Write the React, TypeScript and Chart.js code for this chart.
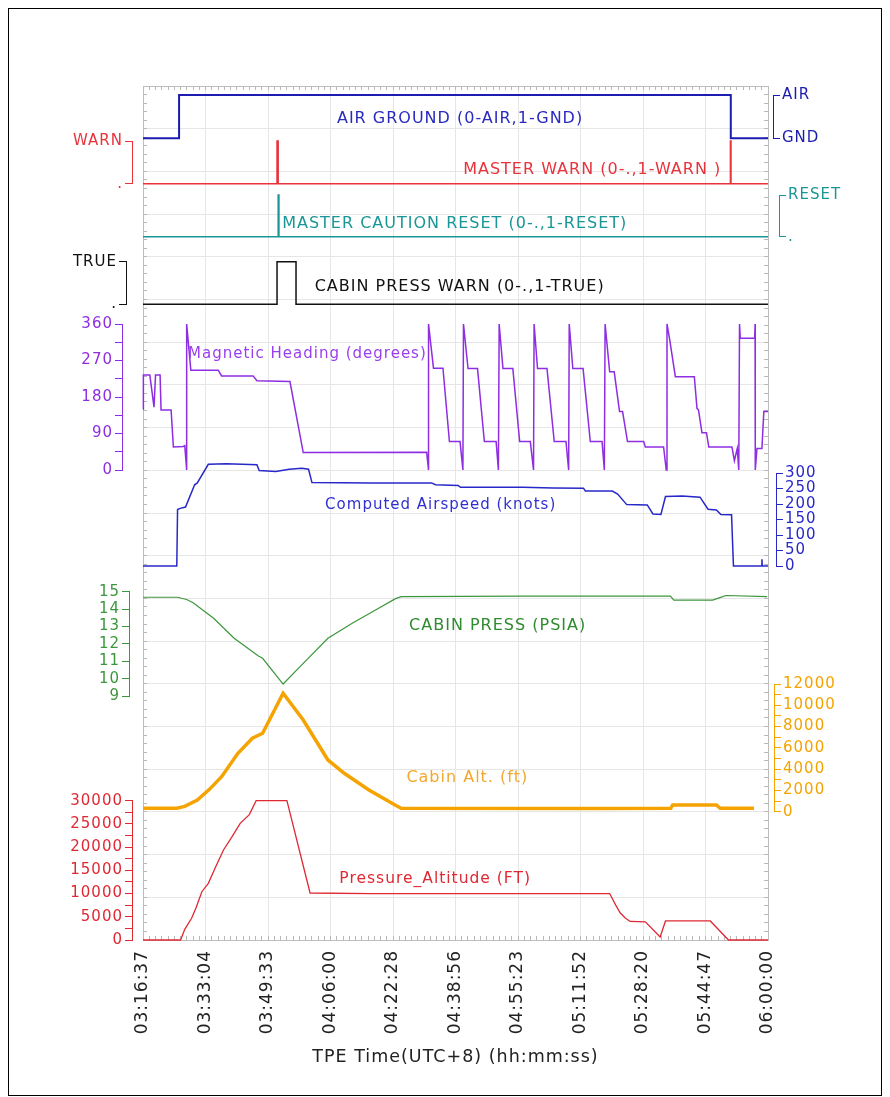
import React, { useEffect, useRef } from 'react';
import { Chart, registerables } from 'chart.js';

Chart.register(...registerables);

const FONT = "'DejaVu Sans', Verdana, sans-serif";

// ---- time axis: minutes elapsed since 03:16:37 ----
const X_LABELS = ['03:16:37', '03:33:04', '03:49:33', '04:06:00', '04:22:28', '04:38:56', '04:55:23', '05:11:52', '05:28:20', '05:44:47', '06:00:00'];
const X_SPAN = 164.6;
const X_TITLE = 'TPE Time(UTC+8) (hh:mm:ss)';

// ---- AIR GROUND (0-AIR, 1-GND) ----
const AIRGND_T = [0, 9.5, 154.8, 164.6];
const AIRGND_V = [1, 0, 1, 1];
// ---- MASTER WARN ----
const MWARN_T = [0, 35.3, 35.6, 154.7, 154.85, 164.6];
const MWARN_V = [0, 1, 0, 1, 0, 0];
// ---- MASTER CAUTION RESET ----
const MCRESET_T = [0, 35.6, 35.8, 164.6];
const MCRESET_V = [0, 1, 0, 0];
// ---- CABIN PRESS WARN ----
const CPWARN_T = [0, 35.3, 40.3, 164.6];
const CPWARN_V = [0, 1, 0, 0];

// ---- Magnetic Heading (degrees) ----
const HDG_T = [0, 0.1, 1.8, 2.9, 3.3, 4.5, 4.75, 7.4, 8.0, 10.6, 11.0, 11.5, 11.5, 12.6, 19.8, 20.7, 29.0, 30.0, 38.7, 42.2,
  74.7, 75.2, 75.2, 76.5, 79.0, 80.7, 83.5, 84.25, 84.4, 85.6, 88.1, 89.9, 93.0, 93.6, 93.8, 94.8, 97.4, 99.2, 102.0,
  102.85, 103.0, 103.9, 106.4, 108.3, 111.4, 112.1, 112.25, 113.2, 115.9, 117.8, 120.9, 121.5, 121.7, 122.9, 124.1,
  125.5, 126.3, 127.6, 131.85, 132.3, 137.1, 137.8, 138.0, 138.7, 140.2, 145.2, 145.9, 146.3, 147.2, 148.4, 149.0,
  155.1, 155.75, 156.5, 156.9, 157.1, 157.3, 161.1, 161.2, 161.25, 161.7, 163.0, 163.5, 164.6];
const HDG_V = [150, 234, 234, 155, 234, 234, 148, 148, 57, 58, 60, 0, 360, 246, 246, 232, 232, 220, 218, 43,
  44, 0, 360, 251, 251, 70, 70, 0, 360, 250, 250, 70, 70, 0, 360, 250, 250, 70, 70,
  0, 360, 250, 250, 70, 70, 0, 360, 250, 250, 70, 70, 0, 360, 242, 242,
  144, 144, 70, 70, 57, 57, 0, 360, 322, 230, 230, 152, 148, 92, 92, 57,
  57, 23, 53, 0, 360, 325, 325, 360, 0, 53, 53, 144, 144];

// ---- Computed Airspeed (knots) ----
const CAS_T = [0, 8.9, 9.1, 9.8, 11.2, 13.6, 14.3, 17.2, 22, 26, 30.0, 30.6, 35, 38.5, 41.8, 43.6, 44.5, 60, 76.0, 77.0,
  83.0, 83.6, 100, 108, 116.0, 116.5, 123.6, 125, 127.4, 132.8, 134.3, 136.4, 137.6, 142, 146.7, 148.8, 151.0, 152.2,
  155.0, 155.5, 162.9, 163.0, 163.1, 164.6];
const CAS_V = [0, 0, 182, 186, 190, 262, 268, 328, 330, 328, 327, 308, 305, 312, 315, 312, 269, 268, 268, 262,
  260, 254, 254, 252, 251, 242, 242, 232, 198, 197, 168, 166, 224, 226, 222, 183, 181, 166,
  165, 0, 0, 22, 0, 0];

// ---- CABIN PRESS (PSIA) ----
const CP_T = [0, 9, 11.5, 13.2, 18.6, 24.0, 30.4, 31.5, 36.9, 42.2, 48.7, 55.1, 61.6, 66.5, 68.0, 100, 138.9, 139.8, 150, 152.5, 153.5, 164.4];
const CP_V = [14.68, 14.68, 14.55, 14.37, 13.47, 12.32, 11.30, 11.17, 9.69, 10.88, 12.32, 13.18, 13.99, 14.6, 14.72, 14.75, 14.74, 14.52, 14.52, 14.7, 14.78, 14.72];

// ---- Cabin Alt. (ft) ----
const CALT_T = [0, 8.9, 11, 14.3, 17.5, 20.7, 25.0, 28.8, 31.5, 36.9, 42.2, 48.7, 53.0, 59.5, 66.5, 68.0, 120, 139, 139.5, 151, 152, 160.9];
const CALT_V = [320, 320, 500, 1100, 2100, 3290, 5490, 6900, 7370, 11130, 8620, 4860, 3610, 2040, 600, 320, 300, 320, 630, 640, 320, 330];

// ---- Pressure_Altitude (FT) ----
const PALT_T = [0, 9.9, 11.0, 12.8, 14.0, 15.5, 17.2, 19, 21.2, 23.5, 25.6, 28, 29.8, 37.9, 44.0, 60, 122.9, 124.5, 125.7, 127.0, 128.3, 132.3, 136.2, 137.6, 149.4, 154.2, 164.6];
const PALT_V = [0, 0, 2300, 4670, 7000, 10400, 12200, 15500, 19380, 22300, 25120, 27000, 30000, 30000, 10120, 10000, 10000, 7500, 5800, 4740, 4000, 3900, 650, 4100, 4100, 0, 0];

// ---- axis ticks ----
const HDG_TICKS = [0, 45, 90, 135, 180, 225, 270, 315, 360];
const CAS_TICKS = [0, 50, 100, 150, 200, 250, 300];
const CP_TICKS = [9, 10, 11, 12, 13, 14, 15];
const CALT_TICKS = [0, 1000, 2000, 3000, 4000, 5000, 6000, 7000, 8000, 9000, 10000, 11000, 12000];
const PALT_TICKS = [0, 2500, 5000, 7500, 10000, 12500, 15000, 17500, 20000, 22500, 25000, 27500, 30000];

// ---- colours ----
const C_AIR = '#1c1cb0';
const C_WARN = '#e8333c';
const C_RESET = '#1a9696';
const C_TRUE = '#111111';
const C_HDG = '#8e2de2';
const C_CAS = '#2828c8';
const C_CP = '#3c963c';
const C_CALT = '#f5a300';
const C_PALT = '#e02833';
const GRID = '#e6e6e6';
const FRAME = '#bdbdbd';
const FRAME_TICK = '#b8b8b8';

const PANEL_LABELS = [
  { text: 'AIR GROUND (0-AIR,1-GND)', t: 83.5, v: 0.56, axis: 'yAir', color: '#2a2ac0', size: 16 },
  { text: 'MASTER WARN (0-.,1-WARN )', t: 118.3, v: 0.32, axis: 'yWarn', color: C_WARN, size: 16 },
  { text: 'MASTER CAUTION RESET (0-.,1-RESET)', t: 82.1, v: 0.30, axis: 'yReset', color: C_RESET, size: 16 },
  { text: 'CABIN PRESS WARN (0-.,1-TRUE)', t: 83.4, v: 0.41, axis: 'yTrue', color: C_TRUE, size: 16 },
  { text: 'Magnetic Heading (degrees)', t: 43.3, v: 286, axis: 'yHdg', color: '#9a3ff0', size: 15 },
  { text: 'Computed Airspeed (knots)', t: 78.4, v: 197, axis: 'yAs', color: '#3030d0', size: 15 },
  { text: 'CABIN PRESS (PSIA)', t: 93.4, v: 13.03, axis: 'yCp', color: '#2e8b2e', size: 16 },
  { text: 'Cabin Alt. (ft)', t: 85.4, v: 3167, axis: 'yCa', color: '#f2a830', size: 16 },
  { text: 'Pressure_Altitude (FT)', t: 76.95, v: 13140, axis: 'yPa', color: C_PALT, size: 15.5 },
];

// horizontal offsets of the value axes from the plot frame
const AXIS_SHIFT: Record<string, number> = { yWarn: -11, yTrue: -17, yHdg: -21, yCp: -14, yPa: -11, yAir: 5, yReset: 11, yAs: 8, yCa: 6 };

const STACK_W = 100;

const pts = (t: number[], v: number[]) => t.map((x, i) => ({ x, y: v[i] }));
const seq = (a: number, b: number, step: number) => { const r: number[] = []; for (let v = a; v <= b + 1e-9; v += step) r.push(v); return r; };

const fixedW = (w: number) => (s: any) => { s.width = w; };
const fixedH = (h: number) => (s: any) => { s.height = h; };
const setTicks = (vals: number[]) => (s: any) => { s.ticks = vals.map((value) => ({ value })); };

function filler(position: string, stack: string, weight: number, stackWeight: number) {
  return {
    type: 'linear', position, stack, weight, stackWeight, min: 0, max: 1,
    ticks: { display: false },
    grid: { display: false, drawTicks: false },
    border: { display: false },
    afterFit: fixedW(STACK_W),
  };
}

function valueAxis(o: any) {
  return {
    type: 'linear', position: o.position, stack: o.stack, weight: o.weight, stackWeight: o.stackWeight,
    min: o.min, max: o.max, reverse: !!o.reverse,
    afterBuildTicks: setTicks(o.ticks),
    ticks: {
      autoSkip: false, color: o.color, padding: 2,
      font: { family: FONT, size: 15 },
      callback: (v: number) => o.label(v),
    },
    grid: { drawOnChartArea: false, drawTicks: true, tickLength: 7, tickColor: o.color, tickWidth: 1 },
    border: { display: true, color: o.color, width: 1 },
    afterFit: fixedW(STACK_W),
  };
}

const shiftPlugin = {
  id: 'axisShift',
  afterLayout(chart: any) {
    for (const id of Object.keys(AXIS_SHIFT)) {
      const s = chart.scales[id];
      if (s) { s.left += AXIS_SHIFT[id]; s.right += AXIS_SHIFT[id]; }
    }
  },
};

const spacingPlugin = {
  id: 'spacing',
  beforeUpdate(chart: any) { chart.ctx.letterSpacing = '1px'; },
  beforeDraw(chart: any) { chart.ctx.letterSpacing = '1px'; },
};

const labelPlugin = {
  id: 'panelLabels',
  afterDatasetsDraw(chart: any) {
    const ctx = chart.ctx;
    ctx.save();
    ctx.textAlign = 'center';
    ctx.textBaseline = 'middle';
    for (const L of PANEL_LABELS) {
      ctx.font = `${L.size}px ${FONT}`;
      ctx.fillStyle = L.color;
      ctx.fillText(L.text, chart.scales.x.getPixelForValue(L.t), chart.scales[L.axis].getPixelForValue(L.v));
    }
    ctx.restore();
  },
};

function line(label: string, yAxisID: string, t: number[], v: number[], color: string, width: number, stepped: any = false) {
  return {
    label, yAxisID, xAxisID: 'x', data: pts(t, v), borderColor: color, backgroundColor: color,
    borderWidth: width, pointRadius: 0, tension: 0, stepped, fill: false, clip: false,
  };
}

export default function App() {
  const ref = useRef<HTMLCanvasElement | null>(null);

  useEffect(() => {
    if (!ref.current) return;
    const minorGridColor = (ctx: any) => (ctx.tick && Math.round(ctx.tick.value) % 5 === 0 ? GRID : 'rgba(0,0,0,0)');
    const chart = new Chart(ref.current, {
      type: 'line',
      data: {
        datasets: [
          line('AIR GROUND', 'yAir', AIRGND_T, AIRGND_V, C_AIR, 2, 'before'),
          line('MASTER WARN', 'yWarn', MWARN_T, MWARN_V, C_WARN, 1.5, 'before'),
          line('MASTER CAUTION RESET', 'yReset', MCRESET_T, MCRESET_V, C_RESET, 1.5, 'before'),
          line('CABIN PRESS WARN', 'yTrue', CPWARN_T, CPWARN_V, C_TRUE, 1.5, 'before'),
          line('Magnetic Heading', 'yHdg', HDG_T, HDG_V, C_HDG, 1.5),
          line('Computed Airspeed', 'yAs', CAS_T, CAS_V, C_CAS, 1.5),
          line('Pressure_Altitude', 'yPa', PALT_T, PALT_V, C_PALT, 1.3),
          line('CABIN PRESS', 'yCp', CP_T, CP_V, C_CP, 1.2),
          line('Cabin Alt.', 'yCa', CALT_T, CALT_V, C_CALT, 3.5),
        ],
      },
      options: {
        animation: false,
        responsive: false,
        events: [],
        layout: { padding: { left: 34, right: 13, top: 77, bottom: 5 } },
        plugins: { legend: { display: false }, tooltip: { enabled: false } },
        scales: {
          x: {
            type: 'linear', position: 'bottom', weight: 1, min: 0, max: X_SPAN,
            afterBuildTicks: setTicks(X_LABELS.map((_, i) => (i * X_SPAN) / 10)),
            ticks: {
              autoSkip: false, maxRotation: 90, minRotation: 90, padding: 10, color: '#222',
              font: { family: FONT, size: 17 },
              callback: (_v: any, i: number) => X_LABELS[i],
            },
            grid: { color: GRID, drawTicks: false },
            border: { color: FRAME },
            title: { display: true, text: X_TITLE, color: '#222', font: { family: FONT, size: 17.5 }, padding: { top: 4, bottom: 22 } },
            afterFit: fixedH(150),
          },
          xMinor: {
            type: 'linear', position: 'bottom', weight: 0, min: 0, max: X_SPAN,
            afterBuildTicks: setTicks(seq(0, 100, 1).map((k) => (k * X_SPAN) / 100)),
            ticks: { display: false },
            grid: { drawOnChartArea: false, drawTicks: true, tickLength: -4, tickColor: FRAME_TICK },
            border: { display: false },
            afterFit: fixedH(0),
          },
          xTop: {
            type: 'linear', position: 'top', weight: 0, min: 0, max: X_SPAN,
            afterBuildTicks: setTicks(seq(0, 100, 1).map((k) => (k * X_SPAN) / 100)),
            ticks: { display: false },
            grid: { drawOnChartArea: false, drawTicks: true, tickLength: -4, tickColor: FRAME_TICK },
            border: { display: true, color: FRAME },
            afterFit: fixedH(0),
          },
          gridL: {
            type: 'linear', position: 'left', weight: 0, min: 0, max: 100,
            afterBuildTicks: setTicks(seq(0, 100, 1)),
            ticks: { display: false },
            grid: { drawOnChartArea: true, color: minorGridColor, drawTicks: true, tickLength: -4, tickColor: FRAME_TICK },
            border: { display: true, color: FRAME },
            afterFit: fixedW(0),
          },
          gridR: {
            type: 'linear', position: 'right', weight: 0, min: 0, max: 100,
            afterBuildTicks: setTicks(seq(0, 100, 1)),
            ticks: { display: false },
            grid: { drawOnChartArea: false, drawTicks: true, tickLength: -4, tickColor: FRAME_TICK },
            border: { display: true, color: FRAME },
            afterFit: fixedW(0),
          },
          // left stack (higher weight = higher up)
          fL0: filler('left', 'L', 20, 55),
          yWarn: valueAxis({ position: 'left', stack: 'L', weight: 19, stackWeight: 42.7, min: 0, max: 1, ticks: [0, 1], color: C_WARN, label: (v: number) => (v === 1 ? 'WARN' : '.') }),
          fL1: filler('left', 'L', 18, 78),
          yTrue: valueAxis({ position: 'left', stack: 'L', weight: 17, stackWeight: 42.6, min: 0, max: 1, ticks: [0, 1], color: C_TRUE, label: (v: number) => (v === 1 ? 'TRUE' : '.') }),
          fL2: filler('left', 'L', 16, 19.7),
          yHdg: valueAxis({ position: 'left', stack: 'L', weight: 15, stackWeight: 146, min: 0, max: 360, ticks: HDG_TICKS, color: C_HDG, label: (v: number) => (v % 90 === 0 ? String(v) : '') }),
          fL3: filler('left', 'L', 14, 121.7),
          yCp: valueAxis({ position: 'left', stack: 'L', weight: 13, stackWeight: 104.3, min: 9, max: 15, ticks: CP_TICKS, color: C_CP, label: (v: number) => String(v) }),
          fL4: filler('left', 'L', 12, 104.7),
          yPa: valueAxis({ position: 'left', stack: 'L', weight: 11, stackWeight: 139.3, min: 0, max: 30000, ticks: PALT_TICKS, color: C_PALT, label: (v: number) => (v % 5000 === 0 ? String(v) : '') }),
          // right stack (lower weight = higher up)
          fR0: filler('right', 'R', 1, 9),
          yAir: valueAxis({ position: 'right', stack: 'R', weight: 2, stackWeight: 43.3, min: 0, max: 1, reverse: true, ticks: [0, 1], color: C_AIR, label: (v: number) => (v === 0 ? 'AIR' : 'GND') }),
          fR1: filler('right', 'R', 3, 56.7),
          yReset: valueAxis({ position: 'right', stack: 'R', weight: 4, stackWeight: 41.7, min: 0, max: 1, ticks: [0, 1], color: C_RESET, label: (v: number) => (v === 1 ? 'RESET' : '.') }),
          fR2: filler('right', 'R', 5, 236.3),
          yAs: valueAxis({ position: 'right', stack: 'R', weight: 6, stackWeight: 93, min: 0, max: 300, ticks: CAS_TICKS, color: C_CAS, label: (v: number) => String(v) }),
          fR3: filler('right', 'R', 7, 118),
          yCa: valueAxis({ position: 'right', stack: 'R', weight: 8, stackWeight: 127.7, min: 0, max: 12000, ticks: CALT_TICKS, color: C_CALT, label: (v: number) => (v % 2000 === 0 ? String(v) : '') }),
          fR4: filler('right', 'R', 9, 128.3),
        } as any,
      } as any,
      plugins: [spacingPlugin, shiftPlugin, labelPlugin],
    } as any);
    return () => chart.destroy();
  }, []);

  return (
    <div style={{ position: 'fixed', left: 8, top: 8, width: 872, height: 1086, border: '1px solid #000', background: '#fff' }}>
      <canvas ref={ref} width={872} height={1086} style={{ display: 'block', width: 872, height: 1086 }} />
    </div>
  );
}
